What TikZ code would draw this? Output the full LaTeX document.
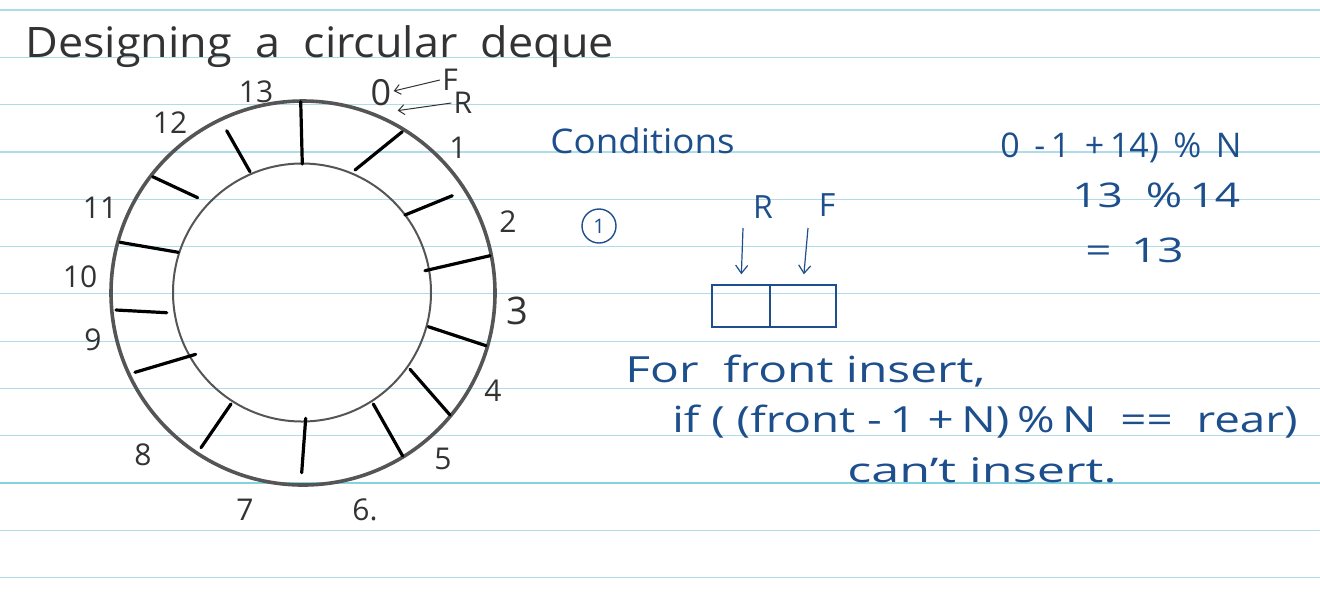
\documentclass[tikz,border=0pt]{standalone}
\usepackage{fontspec}
\setmainfont{Open Sans}
\usetikzlibrary{arrows.meta}
\definecolor{rule}{HTML}{B0DCEA}
\definecolor{rulec}{HTML}{86D3E0}
\definecolor{ink}{HTML}{1D4F8C}
\definecolor{pencil}{HTML}{333333}
\definecolor{ring}{HTML}{555555}
\tikzset{
  ruled/.style={rule, line width=0.6pt},
  note/.style={text=ink, inner sep=0pt, anchor=base west},
  num/.style={text=pencil, inner sep=1pt, font=\fontsize{15}{15}\selectfont},
  spoke/.style={black, line width=1.6pt, line cap=round},
  inkarrow/.style={ink, line width=0.6pt, -{Straight Barb[length=4pt,width=6pt]}},
  pencilarrow/.style={pencil, line width=0.5pt, -{Straight Barb[length=3pt,width=5pt]}},
  cell/.style={draw=ink, line width=0.7pt, minimum height=21pt, inner sep=0pt}
}
\begin{document}
\begin{tikzpicture}[x=0.5pt,y=-0.5pt]
\useasboundingbox (0,0) rectangle (1320,601);
\fill[white] (0,0) rectangle (1320,601);
% ruled paper
\foreach \k in {0,...,12}{
  \draw[ruled] (0,{10+47.3*\k}) -- (1320,{10+47.3*\k});
}
\draw[rulec, line width=0.9pt] (0,483) -- (1320,483);
% title
\node[note, text=pencil, font=\fontsize{21}{21}\selectfont] (title) at (25,57) {\scalebox{1.07}[1]{Designing\ \ a\ \ circular\ \ deque}};
% ring
\node[draw=ring, line width=1.8pt, circle, minimum size=192pt, inner sep=0pt] (outer) at (303,293) {};
\node[draw=ring, line width=1pt, circle, minimum size=129pt, inner sep=0pt] (inner) at (302,292.5) {};
\draw[spoke] (300.7,101.7) -- (302.3,164);
\draw[spoke] (402.3,131.7) -- (355,170);
\draw[spoke] (452.3,195.7) -- (405,215);
\draw[spoke] (490,255.7) -- (425,270.7);
\draw[spoke] (428.3,326.7) -- (486,345.7);
\draw[spoke] (410,369.3) -- (450,415);
\draw[spoke] (373.3,404) -- (402.7,456);
\draw[spoke] (305.7,418.3) -- (301.7,472.7);
\draw[spoke] (231,404) -- (201,447.7);
\draw[spoke] (195.7,354.3) -- (135,372.3);
\draw[spoke] (166.7,312.7) -- (116,310);
\draw[spoke] (178.3,252.3) -- (120,242.3);
\draw[spoke] (197.7,197.7) -- (152.7,176.7);
\draw[spoke] (250,171.7) -- (226.7,130.7);
% index labels
\node[num] (n13) at (256,92) {13};
\node[num, font=\fontsize{18}{18}\selectfont] (n0) at (381,93) {0};
\node[num] (lf) at (450,80) {F};
\node[num] (lr) at (463,103) {R};
\draw[pencilarrow] (lf.west) -- ([yshift=1pt]n0.east);
\draw[pencilarrow] (lr.west) -- ([xshift=2pt,yshift=-1pt]n0.south east);
\node[num] (n1) at (458,148) {1};
\node[num] (n2) at (508,222) {2};
\node[num, font=\fontsize{19}{19}\selectfont] (n3) at (517,311) {3};
\node[num] (n4) at (493,391) {4};
\node[num] (n5) at (443,459) {5};
\node[num] (n6) at (365,510) {6.};
\node[num] (n7) at (245,510) {7};
\node[num] (n8) at (143,455) {8};
\node[num] (n9) at (93,340) {9};
\node[num] (n10) at (80,277) {10};
\node[num] (n11) at (100,208) {11};
\node[num] (n12) at (170,123) {12};
% conditions
\node[note, font=\fontsize{17}{17}\selectfont] (cond) at (550,153) {\scalebox{1.08}[1]{Conditions}};
\node[draw=ink, text=ink, circle, line width=0.7pt, minimum size=17pt, inner sep=0pt, font=\fontsize{10}{10}\selectfont] (c1) at (599,226) {1};
\node[text=ink, inner sep=1pt, font=\fontsize{16}{16}\selectfont] (rr) at (763,207) {R};
\node[text=ink, inner sep=1pt, font=\fontsize{16}{16}\selectfont] (ff) at (827,205) {F};
\node[cell, minimum width=29pt] (cellL) at (741,306) {};
\node[cell, minimum width=33pt] (cellR) at (803,306) {};
\coordinate (ra) at (743,228);
\coordinate (fa) at (808,228);
\draw[inkarrow, shorten >=5pt] (ra) -- (cellL.north);
\draw[inkarrow, shorten >=5pt] (fa) -- (cellR.north);
% arithmetic
\node[note, font=\fontsize{17}{17}\selectfont] (m1) at (1000,157) {0\, -\,1\, +\,14)\, \%\, N};
\node[note, font=\fontsize{17}{17}\selectfont] (m2) at (1072,207) {\scalebox{1.3}[1]{13\ \ \%\,14}};
\node[note, font=\fontsize{17}{17}\selectfont] (m3) at (1085,262) {\scalebox{1.35}[1]{=\,\ 13}};
% front insert rule
\node[note, font=\fontsize{18}{18}\selectfont] (t1) at (625,382) {\scalebox{1.33}[1]{For\ \ front\ insert,}};
\node[note, font=\fontsize{18}{18}\selectfont] (t2) at (672,432) {\scalebox{1.27}[1]{if\ ( (front\ -\,1\ +\,N)\,\%\,N\ \ ==\ \ rear)}};
\node[note, font=\fontsize{17}{17}\selectfont] (t3) at (847,482) {\scalebox{1.48}[1]{can't\ insert.}};
\end{tikzpicture}
\end{document}
